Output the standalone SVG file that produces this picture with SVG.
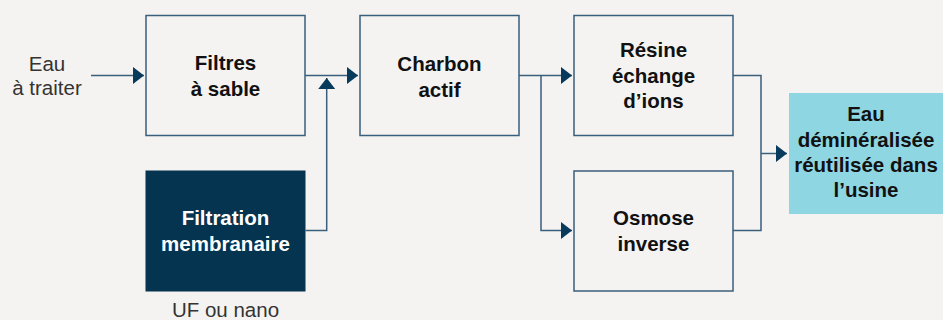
<svg xmlns="http://www.w3.org/2000/svg" width="943" height="320" viewBox="0 0 943 320">
<defs>
<marker id="ah" markerUnits="userSpaceOnUse" markerWidth="11" markerHeight="18" refX="11" refY="8.5" orient="auto" viewBox="0 0 11 17">
<path d="M0,0 L11,8.5 L0,17 z" fill="#083a5c"/>
</marker>
<style>
.box{fill:#f4f3f1;stroke:#3a5f7c;stroke-width:1.5}
.t{font-family:"Liberation Sans",Arial,sans-serif;font-size:20.5px;font-weight:bold;fill:#111;text-anchor:middle}
.w{fill:#ffffff}
.lbl{font-family:"Liberation Sans",Arial,sans-serif;font-size:20.5px;fill:#333;text-anchor:middle}
.c{fill:none;stroke:#3a5f7c;stroke-width:1.5}
</style>
</defs>
<rect width="943" height="320" fill="#f4f3f1"/>
<g id="input-label">
<text class="lbl" x="47" y="71">Eau</text>
<text class="lbl" x="47" y="95">à traiter</text>
</g>
<g id="filtres">
<rect class="box" x="146" y="15.5" width="159" height="120"/>
<text class="t" x="225.5" y="70">Filtres</text>
<text class="t" x="225.5" y="96">à sable</text>
</g>
<g id="filtration">
<rect x="145.5" y="170.5" width="160" height="121" fill="#04344f"/>
<text class="t w" x="225.5" y="225">Filtration</text>
<text class="t w" x="225.5" y="251">membranaire</text>
<text class="lbl" x="225.5" y="317">UF ou nano</text>
</g>
<g id="charbon">
<rect class="box" x="360" y="15.5" width="159" height="120"/>
<text class="t" x="439.5" y="71">Charbon</text>
<text class="t" x="439.5" y="97">actif</text>
</g>
<g id="resine">
<rect class="box" x="574" y="15.5" width="159" height="120"/>
<text class="t" x="653.5" y="57">Résine</text>
<text class="t" x="653.5" y="83">échange</text>
<text class="t" x="653.5" y="108">d’ions</text>
</g>
<g id="osmose">
<rect class="box" x="574" y="171" width="159" height="120"/>
<text class="t" x="653.5" y="225">Osmose</text>
<text class="t" x="653.5" y="251">inverse</text>
</g>
<g id="eau-demin">
<rect x="789" y="93" width="154" height="121" fill="#8fd6e3"/>
<text class="t" x="866" y="121">Eau</text>
<text class="t" x="866" y="147">déminéralisée</text>
<text class="t" x="866" y="172">réutilisée dans</text>
<text class="t" x="866" y="197">l’usine</text>
</g>
<g id="connectors">
<path class="c" d="M91,75.5 H144" marker-end="url(#ah)"/>
<path class="c" d="M305,75.5 H358" marker-end="url(#ah)"/>
<path class="c" d="M305.5,230.5 H326.7 V78" marker-end="url(#ah)"/>
<path class="c" d="M519,75.5 H572" marker-end="url(#ah)"/>
<path class="c" d="M541,75.5 V230.5 H572" marker-end="url(#ah)"/>
<path class="c" d="M733,75.5 H761 V230.5 H733"/>
<path class="c" d="M761,153.5 H787" marker-end="url(#ah)"/>
</g>
</svg>
